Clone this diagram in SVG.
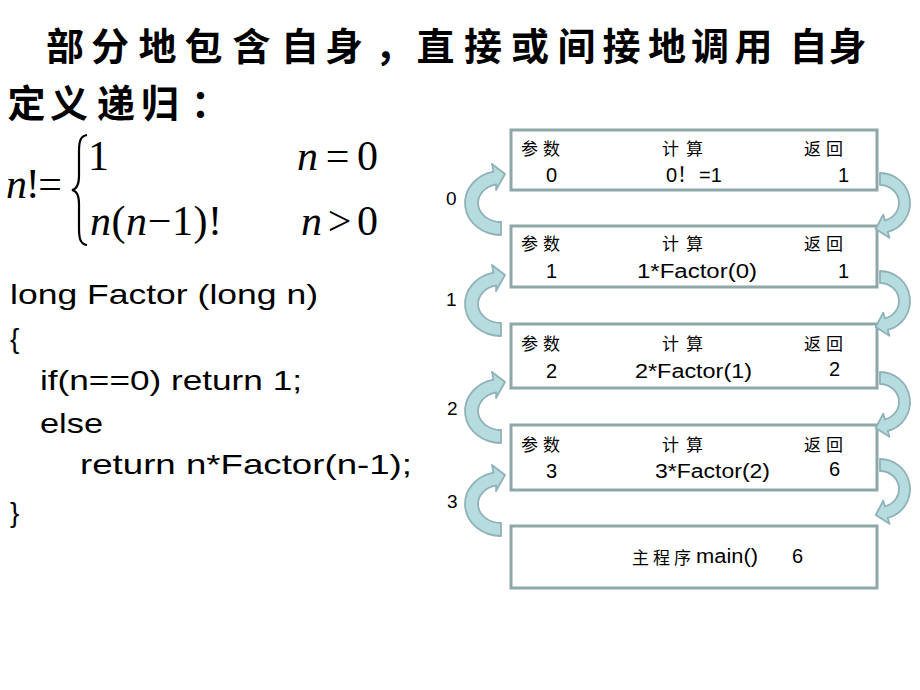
<svg xmlns="http://www.w3.org/2000/svg" width="920" height="690" viewBox="0 0 920 690">
<defs>
<style>
.title{font-family:"Noto Sans CJK SC",sans-serif;font-weight:700;font-size:38px;fill:#000}
.code{font-family:"Liberation Sans",Arial,sans-serif;font-size:28px;fill:#000}
.math{font-family:"Liberation Serif","Times New Roman",serif;font-size:42px;fill:#000}
.mi{font-style:italic}
.box{fill:#fff;stroke:#8FA7A8;stroke-width:3}
.lbl{font-family:"Noto Sans CJK SC",sans-serif;font-size:17px;fill:#000}
.val{font-family:"Liberation Sans",Arial,"Noto Sans CJK SC",sans-serif;font-size:20px;fill:#000}
.num{font-family:"Liberation Sans",Arial,sans-serif;font-size:19px;fill:#000}
.arr{fill:#B6DCE0;stroke:#8FB2B7;stroke-width:1.8;stroke-linejoin:round}
</style>
<path id="larr" d="M0,32 A36,32 0 0 1 -7.48,-31.3 L-9,-39 L4,-29 L-5,-13 L-4.78,-18.58 A23,19 0 0 0 0,19 Z"/>
<path id="rarr" d="M0,-30 A30,30 0 0 1 7.76,28.98 L9.45,34.77 L-4.29,26.03 L3.23,11.59 L4.92,17.39 A19,18 0 0 0 0,-18 Z"/>
</defs>
<rect width="920" height="690" fill="#fff"/>

<g id="title">
<text class="title" y="60" x="46 91 138.5 184.5 232.5 281 325 375 416.5 464 511 557.5 602.5 648 691 734.5 789.5 828.5">部分地包含自身，直接或间接地调用自身</text>
<text class="title" y="117" x="7.5 50 97 141 191">定义递归：</text>
</g>

<g id="formula">
<text class="math" x="6" y="198" textLength="56" lengthAdjust="spacing"><tspan class="mi">n</tspan>!=</text>
<path d="M87,135 C80,136 79,142 79,152 L79,176 C79,185 77,189 72,190 C77,191 79,195 79,204 L79,228 C79,238 80,244 87,245" fill="none" stroke="#000" stroke-width="2.2"/>
<text class="math" x="88" y="170">1</text>
<text class="math" x="297" y="170" textLength="81" lengthAdjust="spacing"><tspan class="mi">n</tspan>=0</text>
<text class="math" x="90" y="235" textLength="132" lengthAdjust="spacing"><tspan class="mi">n</tspan>(<tspan class="mi">n</tspan>−1)!</text>
<text class="math" x="301" y="235" textLength="77" lengthAdjust="spacing"><tspan class="mi">n</tspan>&gt;0</text>
</g>

<g id="code">
<text class="code" x="10" y="304" textLength="308" lengthAdjust="spacingAndGlyphs">long Factor (long n)</text>
<text class="code" x="10" y="348">{</text>
<text class="code" x="40" y="390" textLength="262" lengthAdjust="spacingAndGlyphs">if(n==0) return 1;</text>
<text class="code" x="40" y="433" textLength="63" lengthAdjust="spacingAndGlyphs">else</text>
<text class="code" x="80" y="474" textLength="332" lengthAdjust="spacingAndGlyphs">return n*Factor(n-1);</text>
<text class="code" x="10" y="522">}</text>
</g>

<g id="frame0">
<rect class="box" x="511" y="130" width="366" height="60"/>
<text class="lbl" y="155"><tspan x="521">参</tspan><tspan x="543">数</tspan><tspan x="662">计</tspan><tspan x="686">算</tspan><tspan x="804">返</tspan><tspan x="826">回</tspan></text>
<text class="val" x="546" y="182">0</text>
<text class="val" y="182"><tspan x="666">0</tspan><tspan x="677" font-family="Noto Sans CJK SC">！</tspan><tspan x="699">=1</tspan></text>
<text class="val" x="838" y="182">1</text>
</g>

<g id="frame1">
<rect class="box" x="511" y="226" width="366" height="61"/>
<text class="lbl" y="250"><tspan x="521">参</tspan><tspan x="543">数</tspan><tspan x="662">计</tspan><tspan x="686">算</tspan><tspan x="804">返</tspan><tspan x="826">回</tspan></text>
<text class="val" x="546" y="278">1</text>
<text class="val" x="637" y="278" textLength="120" lengthAdjust="spacingAndGlyphs">1*Factor(0)</text>
<text class="val" x="838" y="278">1</text>
</g>

<g id="frame2">
<rect class="box" x="511" y="324" width="366" height="64"/>
<text class="lbl" y="350"><tspan x="521">参</tspan><tspan x="543">数</tspan><tspan x="662">计</tspan><tspan x="686">算</tspan><tspan x="804">返</tspan><tspan x="826">回</tspan></text>
<text class="val" x="546" y="378">2</text>
<text class="val" x="635" y="378" textLength="117" lengthAdjust="spacingAndGlyphs">2*Factor(1)</text>
<text class="val" x="829" y="376">2</text>
</g>

<g id="frame3">
<rect class="box" x="511" y="425" width="366" height="65"/>
<text class="lbl" y="451"><tspan x="521">参</tspan><tspan x="543">数</tspan><tspan x="662">计</tspan><tspan x="686">算</tspan><tspan x="804">返</tspan><tspan x="826">回</tspan></text>
<text class="val" x="546" y="478">3</text>
<text class="val" x="655" y="478" textLength="115" lengthAdjust="spacingAndGlyphs">3*Factor(2)</text>
<text class="val" x="829" y="476">6</text>
</g>

<g id="main">
<rect class="box" x="511" y="526" width="366" height="62"/>
<text class="lbl" y="564" font-size="18"><tspan x="632">主</tspan><tspan x="653">程</tspan><tspan x="674">序</tspan></text>
<text class="val" x="696" y="563" textLength="62" lengthAdjust="spacingAndGlyphs">main()</text>
<text class="val" x="792" y="563">6</text>
</g>

<g id="connectors">
<use href="#larr" class="arr" transform="translate(501,203)"/>
<use href="#larr" class="arr" transform="translate(501,304)"/>
<use href="#larr" class="arr" transform="translate(501,411)"/>
<use href="#larr" class="arr" transform="translate(501,504)"/>
<use href="#rarr" class="arr" transform="translate(880,203)"/>
<use href="#rarr" class="arr" transform="translate(880,301)"/>
<use href="#rarr" class="arr" transform="translate(880,402)"/>
<use href="#rarr" class="arr" transform="translate(880,489)"/>
<text class="num" x="446" y="205">0</text>
<text class="num" x="446" y="306">1</text>
<text class="num" x="447" y="415">2</text>
<text class="num" x="447" y="508">3</text>
</g>
</svg>
